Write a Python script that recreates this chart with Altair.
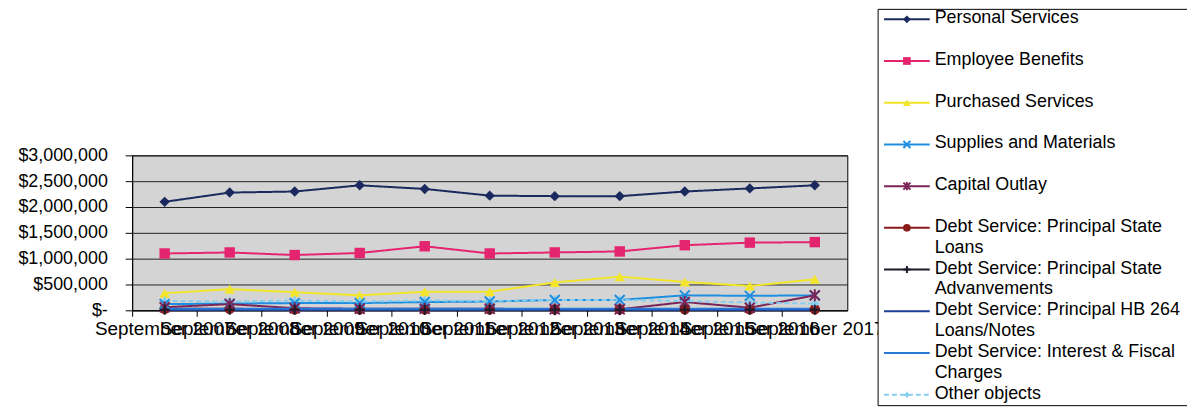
import altair as alt
import pandas as pd

months = ["September 2007", "September 2008", "September 2009", "September 2010",
          "September 2011", "September 2012", "September 2013", "September 2014",
          "September 2015", "September 2016", "September 2017"]

series_names = ["Personal Services", "Employee Benefits", "Purchased Services",
                "Supplies and Materials", "Capital Outlay",
                "Debt Service: Principal State Loans",
                "Debt Service: Principal State Advanvements",
                "Debt Service: Principal HB 264 Loans/Notes",
                "Debt Service: Interest & Fiscal Charges", "Other objects"]

legend_labels = ["Personal Services", "Employee Benefits", "Purchased Services",
                 "Supplies and Materials", "Capital Outlay",
                 "Debt Service: Principal State\nLoans",
                 "Debt Service: Principal State\nAdvanvements",
                 "Debt Service: Principal HB 264\nLoans/Notes",
                 "Debt Service: Interest & Fiscal\nCharges", "Other objects"]

personal_services = [2100000, 2280000, 2300000, 2420000, 2350000, 2220000, 2210000, 2210000, 2300000, 2360000, 2420000]
employee_benefits = [1100000, 1120000, 1070000, 1110000, 1240000, 1100000, 1120000, 1140000, 1260000, 1310000, 1320000]
purchased_services = [330000, 410000, 350000, 290000, 360000, 360000, 540000, 650000, 550000, 470000, 600000]
supplies_materials = [120000, 130000, 140000, 140000, 160000, 170000, 200000, 200000, 290000, 280000, 290000]
capital_outlay = [60000, 120000, 40000, 30000, 30000, 30000, 20000, 20000, 160000, 50000, 290000]
principal_state_loans = [30000, 30000, 20000, 20000, 20000, 20000, 20000, 20000, 20000, 20000, 20000]
principal_state_advancements = [10000, 10000, 10000, 10000, 10000, 10000, 10000, 10000, 10000, 10000, 10000]
principal_hb264 = [5000, 5000, 5000, 5000, 5000, 5000, 5000, 5000, 5000, 5000, 5000]
interest_fiscal = [30000, 30000, 30000, 30000, 30000, 30000, 30000, 30000, 30000, 30000, 30000]
other_objects = [180000, 170000, 190000, 170000, 190000, 180000, 200000, 200000, 180000, 150000, 130000]

all_values = [personal_services, employee_benefits, purchased_services, supplies_materials,
              capital_outlay, principal_state_loans, principal_state_advancements,
              principal_hb264, interest_fiscal, other_objects]

colors = ["#1B2A5E", "#E5246F", "#F2E52A", "#1E8FE0", "#7A2457",
          "#8B1A1A", "#1A1A2A", "#1C3E9A", "#2A78D6", "#86CDEE"]
dashes = [[1, 0]] * 9 + [[5, 3]]

X_PATH = "M-1,-1L1,1M-1,1L1,-1"
AST_PATH = "M-1,-1L1,1M-1,1L1,-1M0,-1.2L0,1.2"
PLUS_PATH = "M-1,0L1,0M0,-1L0,1"
STAR_PATH = "M0,-1L0.35,-0.35L1,0L0.35,0.35L0,1L-0.35,0.35L-1,0L-0.35,-0.35Z"
shapes = ["diamond", "square", "triangle-up", X_PATH, AST_PATH,
          "circle", PLUS_PATH, "circle", "circle", STAR_PATH]

filled_series = [series_names[i] for i in (0, 1, 2, 5, 9)]
stroked_series = [series_names[i] for i in (3, 4, 6)]

rows = []
for s, vals in zip(series_names, all_values):
    for m, v in zip(months, vals):
        rows.append({"series": s, "month": m, "value": v})
df = pd.DataFrame(rows)

FONT = "Liberation Sans"

color_enc = alt.Color("series:N", scale=alt.Scale(domain=series_names, range=colors), legend=None)
dash_enc = alt.StrokeDash("series:N", scale=alt.Scale(domain=series_names, range=dashes), legend=None)
shape_enc = alt.Shape("series:N", scale=alt.Scale(domain=series_names, range=shapes), legend=None)

x_enc = alt.X("month:N", sort=months,
              scale=alt.Scale(type="band", paddingInner=0, paddingOuter=0),
              axis=alt.Axis(title=None, bandPosition=0, labelOverlap=False,
                            labelFont=FONT, labelFontSize=19, labelColor="black",
                            labelPadding=3, tickSize=6, tickColor="black",
                            domainColor="black", grid=False, labelAngle=0))
y_enc = alt.Y("value:Q", scale=alt.Scale(domain=[0, 3000000], nice=False),
              axis=alt.Axis(title=None, values=[0, 500000, 1000000, 1500000, 2000000, 2500000, 3000000],
                            labelExpr="datum.value == 0 ? '$-' : format(datum.value, '$,.0f')",
                            labelFont=FONT, labelFontSize=18, labelColor="black",
                            labelPadding=18, tickSize=7, tickColor="black",
                            domainColor="black", gridColor="#222222", gridWidth=1))

base = alt.Chart(df).encode(x=x_enc, y=y_enc, color=color_enc)

lines = base.mark_line(strokeWidth=2).encode(strokeDash=dash_enc)
pts_filled = base.transform_filter(
    alt.FieldOneOfPredicate(field="series", oneOf=filled_series)
).mark_point(filled=True, size=110, opacity=1).encode(shape=shape_enc)
pts_stroked = base.transform_filter(
    alt.FieldOneOfPredicate(field="series", oneOf=stroked_series)
).mark_point(filled=False, size=100, strokeWidth=2, opacity=1).encode(shape=shape_enc)

main = alt.layer(lines, pts_filled, pts_stroked)

# legend panel (drawn with its own point scale for the entries)
leg_df = pd.DataFrame({"series": series_names, "label": legend_labels})
leg_y = alt.Y("series:N", sort=series_names,
              scale=alt.Scale(type="point", domain=series_names, range=[-137, 241], padding=0),
              axis=None)

box = alt.Chart(pd.DataFrame({"k": [0]})).mark_rect(
    fill="white", stroke="black", strokeWidth=1
).encode(x=alt.value(751), x2=alt.value(1065), y=alt.value(-147), y2=alt.value(252))

leg_base = alt.Chart(leg_df).encode(y=leg_y, color=color_enc)
leg_rule = leg_base.mark_rule(strokeWidth=2).encode(
    x=alt.value(757), x2=alt.value(803), strokeDash=dash_enc)
leg_pf = leg_base.transform_filter(
    alt.FieldOneOfPredicate(field="series", oneOf=filled_series)
).mark_point(filled=True, size=60, opacity=1).encode(x=alt.value(780), shape=shape_enc)
leg_ps = leg_base.transform_filter(
    alt.FieldOneOfPredicate(field="series", oneOf=stroked_series)
).mark_point(filled=False, size=50, strokeWidth=2, opacity=1).encode(x=alt.value(780), shape=shape_enc)
leg_text = alt.Chart(leg_df).mark_text(
    align="left", baseline="top", dy=-10, font=FONT, fontSize=18,
    lineBreak="\n", lineHeight=21, color="black"
).encode(x=alt.value(808), y=leg_y, text="label:N")

legend = alt.layer(box, leg_rule, leg_pf, leg_ps, leg_text)

chart = alt.layer(main, legend).resolve_scale(y="independent").properties(
    width=720, height=156,
    autosize=alt.AutoSizeParams(type="none"),
    padding={"left": 125, "top": 147, "right": 342, "bottom": 97},
    background="white",
).configure_view(fill="#D4D4D4", stroke="black", strokeWidth=1)

chart.save("out.html", embed_options={"renderer": "svg", "actions": False})
